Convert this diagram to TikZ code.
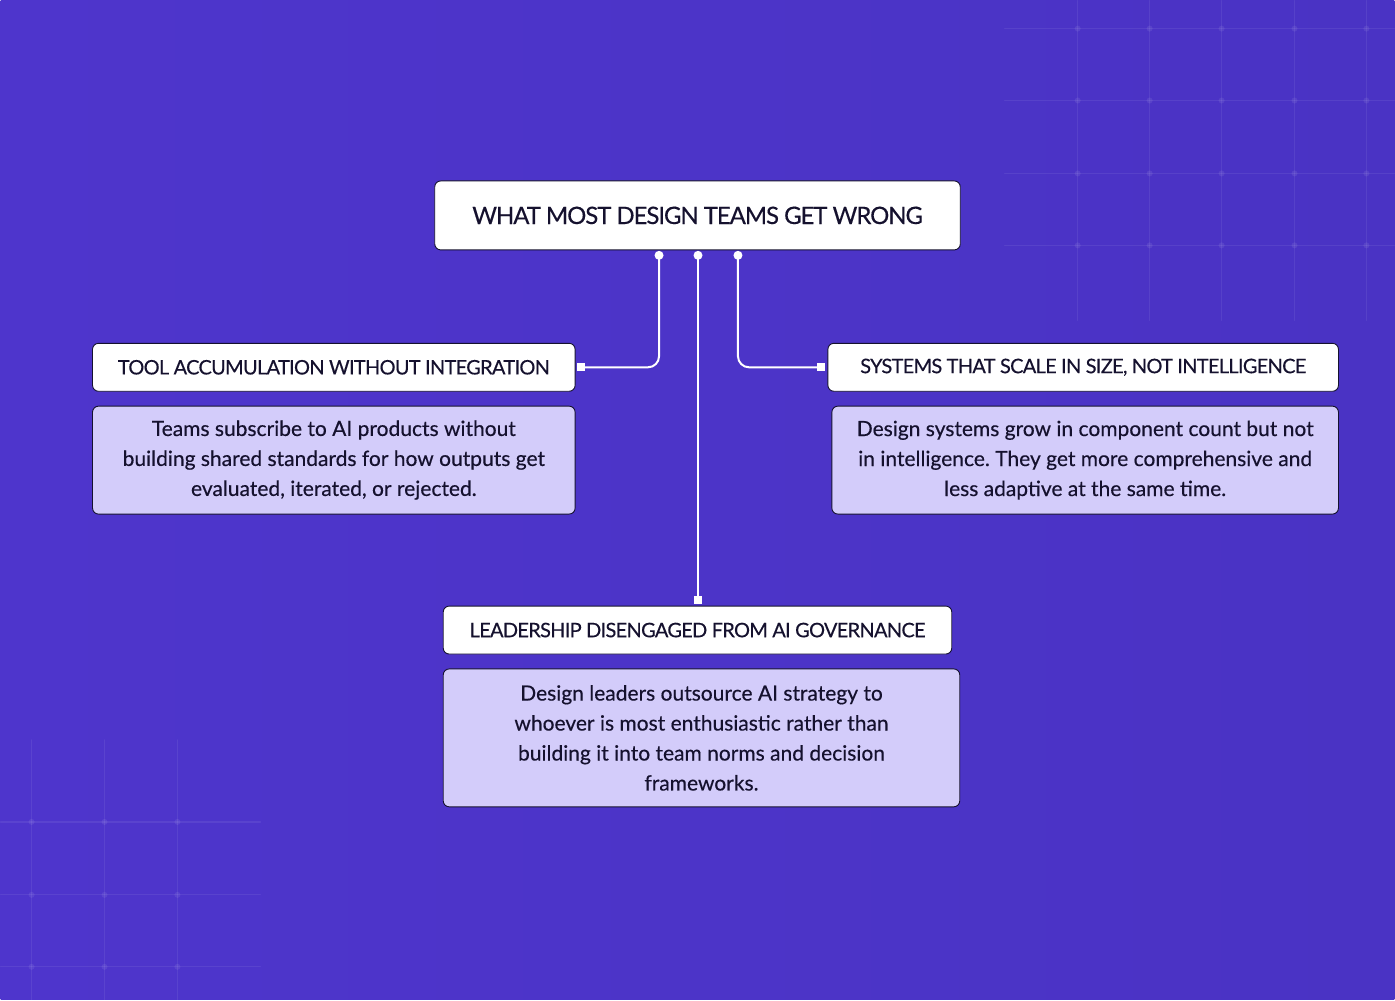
\documentclass[tikz,border=0pt]{standalone}
\usepackage{fontspec}
\setmainfont{Lato}[FakeBold=0.35]
\newfontfamily\capsfont{Lato}[FakeBold=0.35, LetterSpace=-3.5]
\newfontfamily\titlefont{Lato}[FakeBold=0.35, LetterSpace=-4.5]
\usetikzlibrary{positioning}
\frenchspacing
\begin{document}
\begin{tikzpicture}[x=1pt, y=-1pt, line join=round, line cap=round,
    head/.style={draw=ink, fill=white, rounded corners=6pt, line width=.9pt, text=ink, font=\capsfont\fontsize{20}{24}\selectfont, minimum height=48pt, inner sep=0pt},
    desc/.style={draw=ink, fill=lilac, rounded corners=6pt, line width=.9pt, text=ink, align=center, font=\fontsize{21}{30}\selectfont, inner sep=0pt},
    wire/.style={white, line width=2pt, rounded corners=11pt},
    dot/.style={circle, fill=white, inner sep=0pt, minimum size=9pt},
    plug/.style={rectangle, fill=white, inner sep=0pt, minimum size=8pt},
    grid/.style={white, opacity=.07, line width=1.2pt}]
    \definecolor{bgmid}{HTML}{573DDB}
    \definecolor{bgleft}{HTML}{4E35CC}
    \definecolor{bgright}{HTML}{4A33C4}
    \definecolor{lilac}{HTML}{D3CCFA}
    \definecolor{ink}{HTML}{15112E}
    % background and faint grid
    \shade[left color=bgleft, middle color=bgmid, right color=bgright] (0,0) rectangle (1395,1000);
    \foreach \x in {1078,1150,1222,1295,1367}{
        \draw[grid] (\x,0) -- (\x,320);
        \foreach \y in {28,100,173,245}{
            \fill[white, opacity=.08] (\x,\y) circle (3);
    }}
    \foreach \y in {28,100,173,245}{\draw[grid] (1005,\y) -- (1395,\y);}
    \foreach \x in {31,104,177}{
        \draw[grid] (\x,740) -- (\x,1000);
        \foreach \y in {822,895,967}{
            \fill[white, opacity=.08] (\x,\y) circle (3);
    }}
    \foreach \y in {822,895,967}{\draw[grid] (0,\y) -- (260,\y);}

    % boxes
    \node[head, minimum width=526pt, minimum height=69pt, font=\titlefont\fontsize{24}{28}\selectfont] (top) at (697.5,215) {WHAT MOST DESIGN TEAMS GET WRONG};

    \node[head, minimum width=483pt] (tool) at (333.5,367) {TOOL ACCUMULATION WITHOUT INTEGRATION};
    \node[desc, minimum width=483pt, minimum height=108pt, below=14pt of tool] (tooltxt) {Teams subscribe to AI products without\\building shared standards for how outputs get\\evaluated, iterated, or rejected.};

    \node[head, minimum width=511pt] (scale) at (1083.5,367) {SYSTEMS THAT SCALE IN SIZE, NOT INTELLIGENCE};
    \node[desc, minimum width=507pt, minimum height=108pt, below left=14pt and 0pt of scale.south east, anchor=north east] (scaletxt) {Design systems grow in component count but not\\in intelligence. They get more comprehensive and\\less adaptive at the same time.};

    \node[head, minimum width=509pt] (lead) at (697.5,630) {LEADERSHIP DISENGAGED FROM AI GOVERNANCE};
    \node[desc, minimum width=517pt, minimum height=138pt, anchor=north west] (leadtxt) at ([yshift=-14pt]lead.south west) {Design leaders outsource AI strategy to\\whoever is most enthusiastic rather than\\building it into team norms and decision\\frameworks.};

    % connectors
    \node[dot] (dl) at ([xshift=-38.5pt, yshift=-5pt]top.south) {};
    \node[dot] (dc) at ([xshift=0.5pt, yshift=-5pt]top.south) {};
    \node[dot] (dr) at ([xshift=40.5pt, yshift=-5pt]top.south) {};
    \node[plug] (pl) at ([xshift=5pt]tool.east) {};
    \node[plug] (pr) at ([xshift=-6pt]scale.west) {};
    \node[plug] (pc) at ([xshift=0.5pt, yshift=6pt]lead.north) {};
    \draw[wire] (dl.center) |- (pl.center);
    \draw[wire] (dr.center) |- (pr.center);
    \draw[wire] (dc.center) -- (pc.center);
\end{tikzpicture}
\end{document}
